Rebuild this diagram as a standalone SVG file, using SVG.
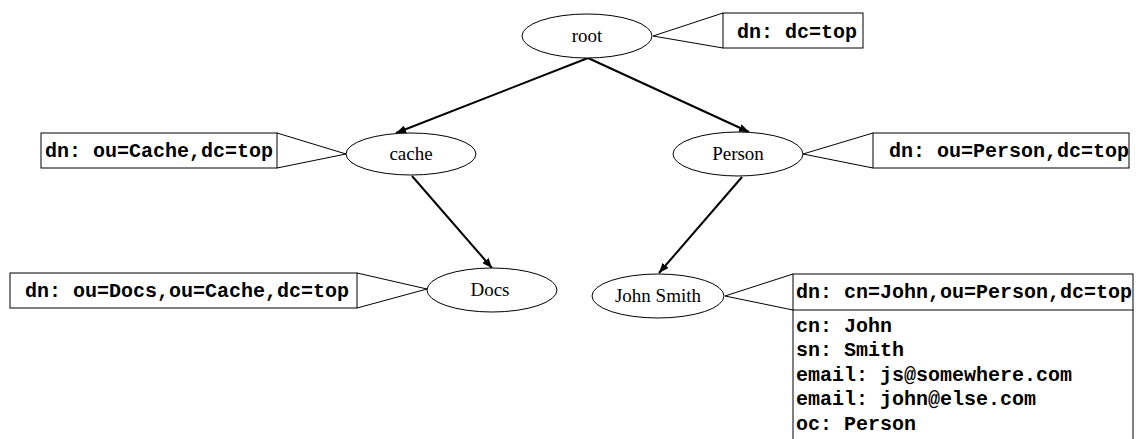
<svg xmlns="http://www.w3.org/2000/svg" width="1136" height="439" viewBox="0 0 1136 439">
<defs>
<style>
.n{fill:#fff;stroke:#000;stroke-width:1}
.t{font-family:"Liberation Serif","Times New Roman",serif;font-size:19px;fill:#000;text-anchor:middle}
.m{font-family:"Liberation Mono","Courier New",monospace;font-size:20px;font-weight:bold;fill:#000}
.b{fill:#fff;stroke:#000;stroke-width:1}
.e{fill:none;stroke:#000;stroke-width:2}
</style>
<marker id="ah" viewBox="0 0 10 8" refX="10" refY="4" markerWidth="10" markerHeight="8" markerUnits="userSpaceOnUse" orient="auto">
<path d="M0,0 L10,4 L0,8 Z" fill="#000"/>
</marker>
</defs>
<rect width="1136" height="439" fill="#fff"/>
<g id="connectors">
<path class="e" d="M588,58 L396,133" marker-end="url(#ah)"/>
<path class="e" d="M588,58 L749,132" marker-end="url(#ah)"/>
<path class="e" d="M412,176 L492,268" marker-end="url(#ah)"/>
<path class="e" d="M742,177 L659,273" marker-end="url(#ah)"/>
</g>
<g id="root">
<polyline class="b" points="723,13 653,36 723,48" fill="none"/>
<ellipse class="n" cx="587" cy="36" rx="65" ry="22"/>
<text class="t" x="587" y="42">root</text>
<rect class="b" x="723" y="13" width="140" height="35"/>
<text class="m" x="737" y="38">dn: dc=top</text>
</g>
<g id="cache">
<polyline class="b" points="277,133 346,154 277,168" fill="none"/>
<ellipse class="n" cx="411" cy="154" rx="65" ry="21"/>
<text class="t" x="411" y="160">cache</text>
<rect class="b" x="41" y="133" width="236" height="35"/>
<text class="m" x="45" y="157">dn: ou=Cache,dc=top</text>
</g>
<g id="person">
<polyline class="b" points="873,133 803,154 873,168" fill="none"/>
<ellipse class="n" cx="738" cy="154" rx="65" ry="22"/>
<text class="t" x="738" y="160">Person</text>
<rect class="b" x="873" y="133" width="256" height="35"/>
<text class="m" x="889" y="157">dn: ou=Person,dc=top</text>
</g>
<g id="docs">
<polyline class="b" points="357,273 427,289 357,308" fill="none"/>
<ellipse class="n" cx="492" cy="290" rx="65" ry="22"/>
<text class="t" x="490" y="296">Docs</text>
<rect class="b" x="10" y="273" width="347" height="35"/>
<text class="m" x="25" y="297">dn: ou=Docs,ou=Cache,dc=top</text>
</g>
<g id="johnsmith">
<polyline class="b" points="793,274 725,296 793,310" fill="none"/>
<ellipse class="n" cx="658" cy="296" rx="66" ry="22"/>
<text class="t" x="658" y="302">John Smith</text>
<rect class="b" x="793" y="274" width="340" height="36"/>
<path class="b" d="M793,310 L793,445 M1133,310 L1133,445"/>
<text class="m" x="796" y="298">dn: cn=John,ou=Person,dc=top</text>
<text class="m" x="796" y="332">cn: John</text>
<text class="m" x="796" y="356">sn: Smith</text>
<text class="m" x="796" y="381">email: js@somewhere.com</text>
<text class="m" x="796" y="405">email: john@else.com</text>
<text class="m" x="796" y="430">oc: Person</text>
</g>
</svg>
